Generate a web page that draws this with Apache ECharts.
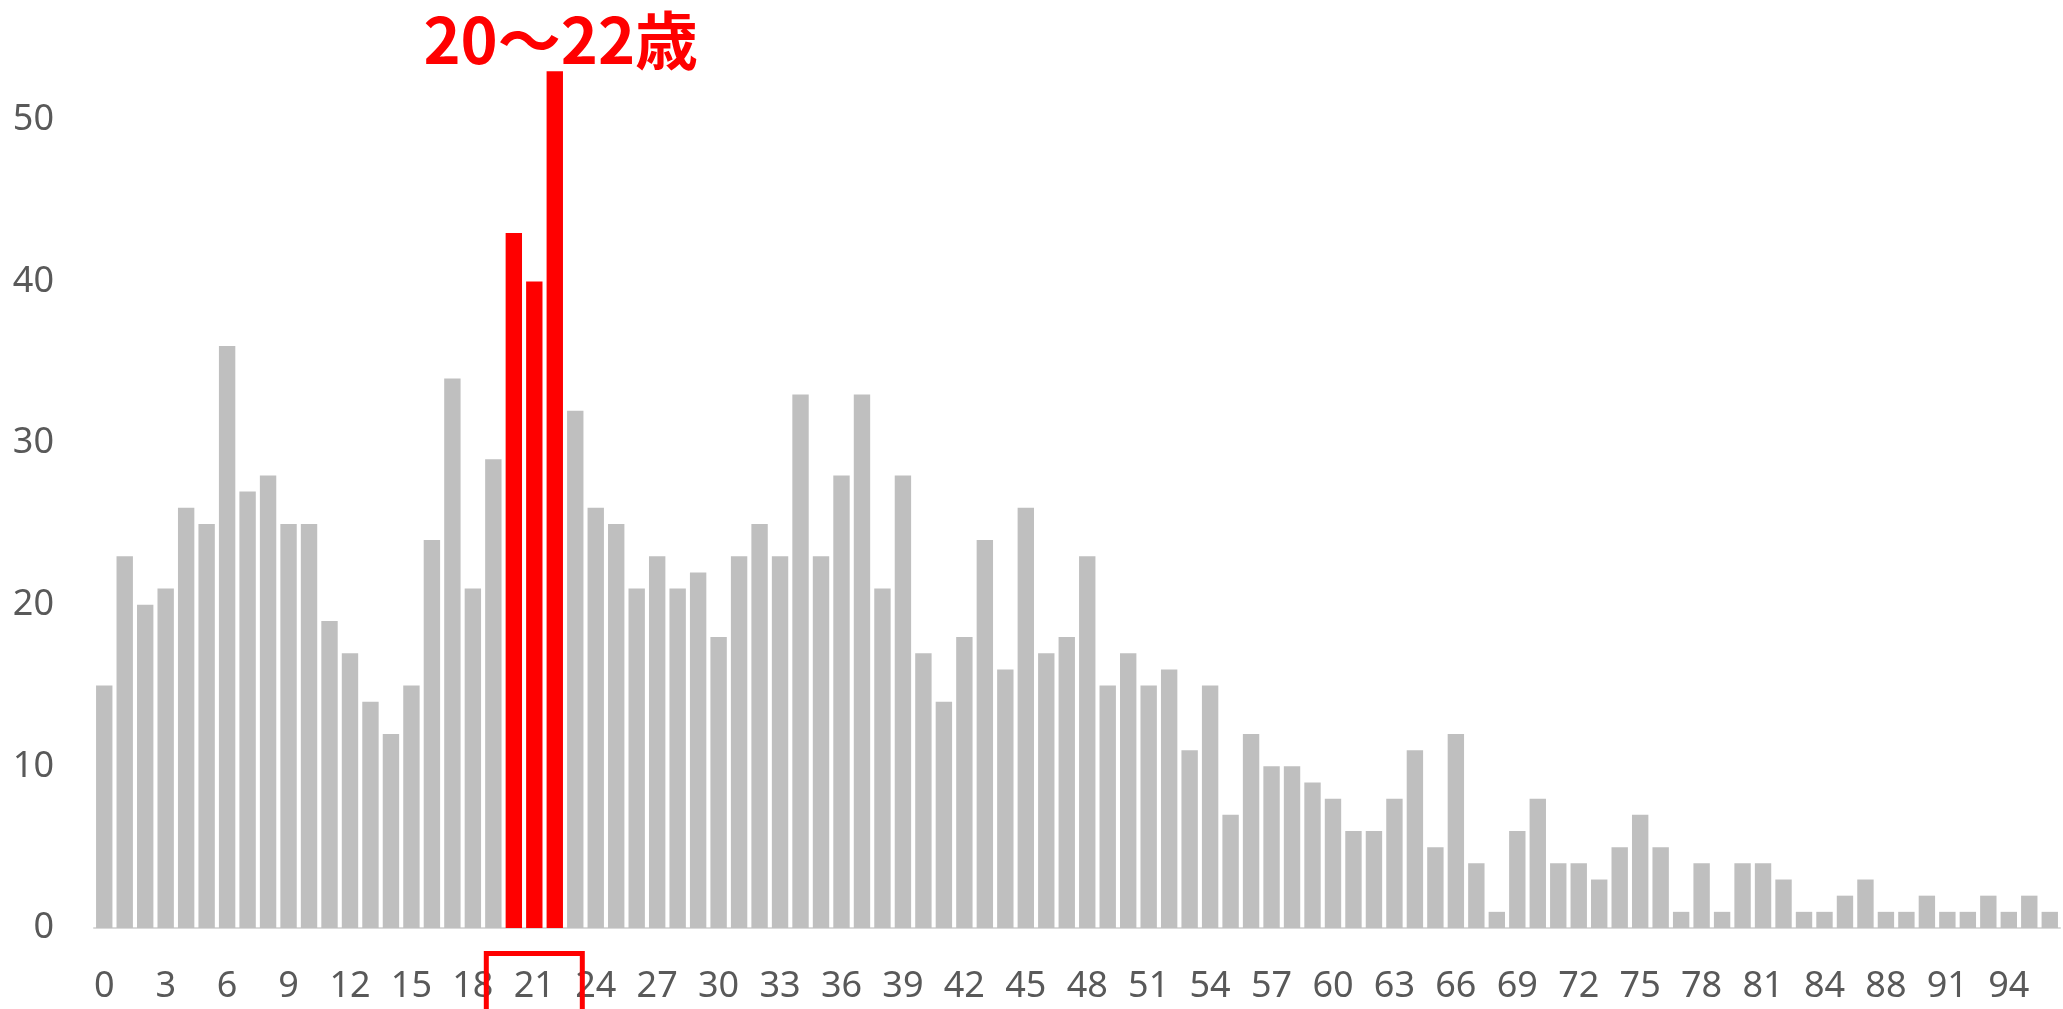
<!DOCTYPE html>
<html>
<head>
<meta charset="utf-8">
<script src="https://cdn.jsdelivr.net/npm/echarts@6.0.0/dist/echarts.min.js"></script>
<style>
	html, body { margin: 0; padding: 0; background: #fff; }
	#chart { width: 2063px; height: 1009px; }
</style>
</head>
<body>
<div id="chart"></div>
<script>
// 年齢（85〜88の間で1歳分欠けている）
var ages = [0, 1, 2, 3, 4, 5, 6, 7, 8, 9,
	10, 11, 12, 13, 14, 15, 16, 17, 18, 19,
	20, 21, 22, 23, 24, 25, 26, 27, 28, 29,
	30, 31, 32, 33, 34, 35, 36, 37, 38, 39,
	40, 41, 42, 43, 44, 45, 46, 47, 48, 49,
	50, 51, 52, 53, 54, 55, 56, 57, 58, 59,
	60, 61, 62, 63, 64, 65, 66, 67, 68, 69,
	70, 71, 72, 73, 74, 75, 76, 77, 78, 79,
	80, 81, 82, 83, 84, 85, 86, 88, 89, 90,
	91, 92, 93, 94, 95, 96];

var counts = [15, 23, 20, 21, 26, 25, 36, 27, 28, 25,
	25, 19, 17, 14, 12, 15, 24, 34, 21, 29,
	43, 40, 53, 32, 26, 25, 21, 23, 21, 22,
	18, 23, 25, 23, 33, 23, 28, 33, 21, 28,
	17, 14, 18, 24, 16, 26, 17, 18, 23, 15,
	17, 15, 16, 11, 15, 7, 12, 10, 10, 9,
	8, 6, 6, 8, 11, 5, 12, 4, 1, 6,
	8, 4, 4, 3, 5, 7, 5, 1, 4, 1,
	4, 4, 3, 1, 1, 2, 3, 1, 1, 2,
	1, 1, 2, 1, 2, 1];

var highlightAges = [20, 21, 22];
var highlightText = '20～22歳';

;
(function() {

	var chart = echarts.init(document.getElementById('chart'));

	var GRAY = '#bfbfbf';
	var RED = '#ff0000';

	var barData = [];
	for(var i = 0; i < counts.length; i++) {
		var hit = highlightAges.indexOf(ages[i]) >= 0;
		barData.push({
			value: counts[i],
			itemStyle: {
				color: hit ? RED : GRAY,
			},
		});
	}

	var option = {
		animation: false,
		backgroundColor: '#ffffff',
		grid: {
			left: 94,
			right: 3,
			top: 39,
			bottom: 81,
		},
		xAxis: {
			type: 'category',
			data: ages.map(String),
			axisLine: {
				show: true,
				lineStyle: {
					color: '#d9d9d9',
					width: 2,
				},
			},
			axisTick: { show: false },
			axisLabel: {
				interval: 2,
				margin: 41,
				color: '#595959',
				fontSize: 36,
				fontFamily: 'Noto Sans',
			},
		},
		yAxis: {
			type: 'value',
			min: 0,
			max: 55,
			interval: 10,
			splitLine: { show: false },
			axisLine: { show: false },
			axisTick: { show: false },
			axisLabel: {
				showMaxLabel: false,
				margin: 40,
				color: '#595959',
				fontSize: 36,
				fontFamily: 'Noto Sans',
			},
		},
		series: [{
			type: 'bar',
			data: barData,
			barCategoryGap: '20%',
		}]
	};

	chart.setOption(option);

	//注釈：見出しと軸ラベルの赤枠
	var first = ages.indexOf(highlightAges[0]);
	var last = ages.indexOf(highlightAges[highlightAges.length - 1]);
	var xFirst = chart.convertToPixel({ xAxisIndex: 0 }, first);
	var xLast = chart.convertToPixel({ xAxisIndex: 0 }, last);
	var peak = 0;
	for(var k = first; k <= last; k++) {
		peak = Math.max(peak, counts[k]);
	}
	var yPeak = chart.convertToPixel({ yAxisIndex: 0 }, peak);
	var yBase = chart.convertToPixel({ yAxisIndex: 0 }, 0);
	var cx = (xFirst + xLast) / 2;

	chart.setOption({
		graphic: [{
			type: 'text',
			z: 100,
			style: {
				text: highlightText,
				x: xLast + 6,
				y: yPeak,
				fill: RED,
				fontSize: 63,
				fontWeight: 'bold',
				fontFamily: 'Noto Sans CJK JP',
				align: 'center',
				verticalAlign: 'bottom',
				textAlign: 'center',
				textVerticalAlign: 'bottom',
			},
		}, {
			type: 'rect',
			z: 100,
			shape: {
				x: cx - 48,
				y: yBase + 25.5,
				width: 96,
				height: 120,
			},
			style: {
				fill: 'none',
				stroke: RED,
				lineWidth: 5,
			},
		}]
	});

}());
</script>
</body>
</html>
